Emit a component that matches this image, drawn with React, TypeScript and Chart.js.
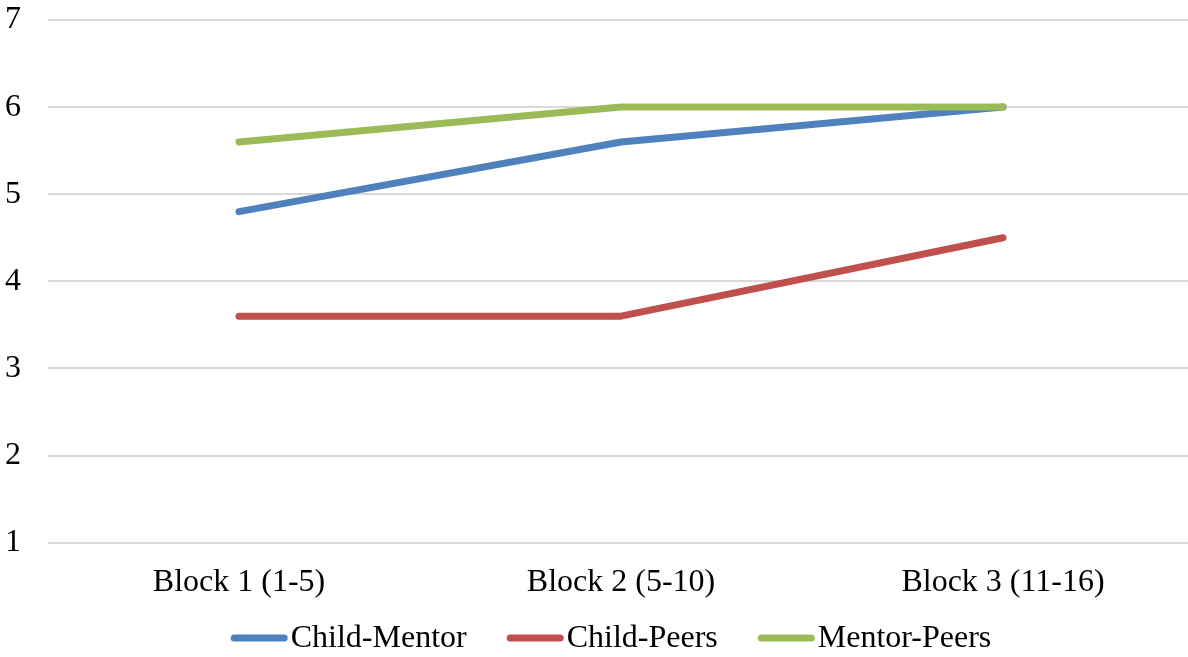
import React, { useEffect, useRef } from "react";
import { Chart, registerables } from "chart.js";

Chart.register(...registerables);

const categories = ["Block 1 (1-5)", "Block 2 (5-10)", "Block 3 (11-16)"];
const childMentor = [4.8, 5.6, 6.0];
const childPeers = [3.6, 3.6, 4.5];
const mentorPeers = [5.6, 6.0, 6.0];
const seriesNames = ["Child-Mentor", "Child-Peers", "Mentor-Peers"];
const seriesColors = ["#4F81BD", "#C0504D", "#9BBB59"];

const FONT = "'Liberation Serif', 'Times New Roman', serif";

const legendPlugin = {
  id: "excelLegend",
  afterDraw(chart: any) {
    const ctx = chart.ctx as CanvasRenderingContext2D;
    const ds = chart.data.datasets;
    ctx.save();
    ctx.font = `32px ${FONT}`;
    ctx.textBaseline = "middle";
    ctx.textAlign = "left";
    const lineW = 57;
    const gapText = 3;
    const gapItem = 40;
    const widths = ds.map((d: any) => lineW + gapText + ctx.measureText(d.label).width);
    const total = widths.reduce((a: number, b: number) => a + b, 0) + gapItem * (ds.length - 1);
    let x = chart.width / 2 + 14 - total / 2;
    const y = chart.height - 19;
    ds.forEach((d: any, i: number) => {
      ctx.strokeStyle = d.borderColor;
      ctx.lineWidth = 7;
      ctx.lineCap = "round";
      ctx.beginPath();
      ctx.moveTo(x + 3.5, y);
      ctx.lineTo(x + lineW - 3.5, y);
      ctx.stroke();
      ctx.fillStyle = "#000";
      ctx.fillText(d.label, x + lineW + gapText, y + 1);
      x += widths[i] + gapItem;
    });
    ctx.restore();
  },
};

export default function App() {
  const ref = useRef<HTMLCanvasElement | null>(null);
  useEffect(() => {
    document.body.style.margin = "0";
    const canvas = ref.current;
    if (!canvas) return;
    const data = [childMentor, childPeers, mentorPeers];
    const chart = new Chart(canvas, {
      type: "line",
      data: {
        labels: categories,
        datasets: seriesNames.map((name, i) => ({
          label: name,
          data: data[i],
          borderColor: seriesColors[i],
          backgroundColor: seriesColors[i],
          borderWidth: 7,
          borderCapStyle: "round" as const,
          borderJoinStyle: "round" as const,
          pointRadius: 0,
          tension: 0,
          order: 3 - i,
        })),
      },
      options: {
        responsive: false,
        animation: false,
        layout: { padding: { top: 4, left: 5, right: 0, bottom: 34 } },
        plugins: {
          legend: { display: false },
          tooltip: { enabled: false },
        },
        scales: {
          x: {
            offset: true,
            grid: { display: false, drawTicks: false },
            border: { display: false },
            ticks: {
              color: "#000",
              font: { family: FONT, size: 32 },
              padding: 21,
              maxRotation: 0,
            },
          },
          y: {
            min: 1,
            max: 7,
            grid: { color: "#D9D9D9", lineWidth: 2, drawTicks: false },
            border: { display: false },
            afterFit: (scale: any) => {
              scale.width = 43;
              scale.paddingTop = 20;
              scale.paddingBottom = 0;
            },
            ticks: {
              stepSize: 1,
              color: "#000",
              font: { family: FONT, size: 32 },
              padding: 27,
            },
          },
        },
      },
      plugins: [legendPlugin],
    });
    return () => chart.destroy();
  }, []);
  return (
    <div
      style={{
        position: "fixed",
        left: 0,
        top: 0,
        width: 1188,
        height: 657,
        overflow: "hidden",
        background: "#fff",
      }}
    >
      <canvas ref={ref} width={1194} height={657} style={{ width: 1194, height: 657, display: "block" }} />
    </div>
  );
}
